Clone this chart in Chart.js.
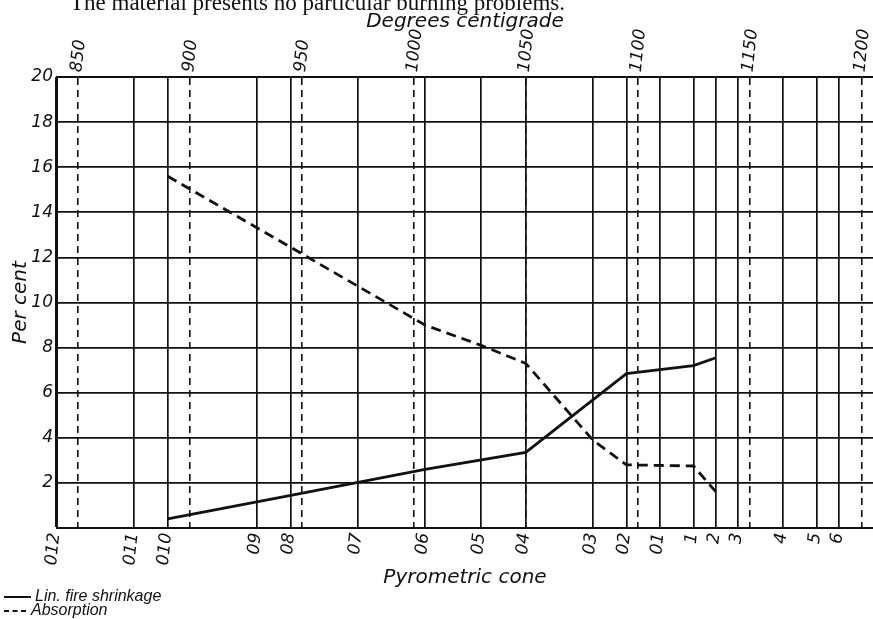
<!DOCTYPE html>
<html>
<head>
<meta charset="utf-8">
<title>Shrinkage and absorption</title>
<script src="https://cdn.jsdelivr.net/npm/chart.js@4.4.1/dist/chart.umd.min.js"></script>
<style>
  body { margin: 0; background: #fff; }
  #wrap { position: relative; width: 873px; height: 619px; overflow: hidden; background: #fff; }
  #myChart { position: absolute; left: 0; top: 0; }
  #headline { position: absolute; left: 70px; top: -10px; font: 23px "Liberation Serif", serif; color: #111; white-space: nowrap; }
</style>
</head>
<body>
<div id="wrap">
  <canvas id="myChart" width="873" height="619"></canvas>
  <div id="headline">The material presents no particular burning problems.</div>
</div>
<script>
// pyrometric cones and the temperature (deg C) each one stands for
var coneLabels = ["012", "011", "010", "09", "08", "07", "06", "05", "04", "03", "02", "01", "1", "2", "3", "4", "5", "6"];
var coneTemps  = [840, 875, 890, 930, 945, 975, 1005, 1030, 1050, 1080, 1095, 1110, 1125, 1135, 1145, 1165, 1180, 1190];

// temperature scale along the top
var degreeTicks = [850, 900, 950, 1000, 1050, 1100, 1150, 1200];

// per cent scale
var percentTicks = [0, 2, 4, 6, 8, 10, 12, 14, 16, 18, 20];

// linear fire shrinkage, per cent
var shrinkCones  = ["010", "08", "06", "04", "02", "1", "2"];
var shrinkValues = [0.4, 1.45, 2.6, 3.35, 6.85, 7.2, 7.55];

// absorption, per cent
var absorbCones  = ["010", "06", "05", "04", "03", "02", "1", "2"];
var absorbValues = [15.6, 9.0, 8.1, 7.3, 3.9, 2.8, 2.75, 1.6];

var ink = '#111';
var tempMin = 840.5, tempMax = 1205.2;

function lettering(size) {
  return { family: '"DejaVu Sans", Verdana, sans-serif', style: 'italic', size: size };
}

function atCones(cones, values) {
  return cones.map(function(c, i) {
    return { x: coneTemps[coneLabels.indexOf(c)], y: values[i] };
  });
}

function tickList(values) {
  return function(scale) {
    scale.ticks = values.map(function(v) { return { value: v }; });
  };
}

function fixHeight(h) {
  return function(scale) {
    scale.height = h;
    scale.paddingLeft = 0;
    scale.paddingRight = 0;
  };
}

// key in the lower left corner, one row per dataset
var cornerKey = {
  id: 'cornerKey',
  afterDraw: function(chart) {
    var c = chart.ctx;
    var top = chart.height - 22;
    c.save();
    c.font = 'italic 16px "Liberation Sans", Arial, sans-serif';
    c.fillStyle = ink;
    c.strokeStyle = ink;
    c.textBaseline = 'middle';
    chart.data.datasets.forEach(function(ds, i) {
      var y = top + i * 14;
      c.lineWidth = 2;
      c.setLineDash(i ? [5, 3.5] : []);
      c.beginPath();
      c.moveTo(4, y);
      c.lineTo(i ? 29 : 31, y);
      c.stroke();
      c.setLineDash([]);
      c.fillText(ds.label, i ? 31 : 35, y);
    });
    c.restore();
  }
};

var ctx = document.getElementById('myChart').getContext('2d');
var chart = new Chart(ctx, {
  type: 'line',
  data: {
    datasets: [{
      label: 'Lin. fire shrinkage',
      data: atCones(shrinkCones, shrinkValues),
      borderColor: ink,
      borderWidth: 2.8,
      pointRadius: 0,
      tension: 0
    }, {
      label: 'Absorption',
      data: atCones(absorbCones, absorbValues),
      borderColor: ink,
      borderWidth: 2.8,
      borderDash: [10, 6],
      pointRadius: 0,
      tension: 0
    }]
  },
  options: {
    responsive: false,
    animation: false,
    layout: { padding: { left: 0, right: 0, top: 0, bottom: 29 } },
    plugins: {
      legend: { display: false },
      tooltip: { enabled: false }
    },
    scales: {
      x: {
        type: 'linear',
        position: 'bottom',
        min: tempMin,
        max: tempMax,
        afterBuildTicks: tickList(coneTemps),
        afterFit: fixHeight(62),
        ticks: {
          autoSkip: false,
          minRotation: 84,
          maxRotation: 84,
          padding: 4,
          labelOffset: -1,
          color: ink,
          font: lettering(17),
          callback: function(value, index) { return coneLabels[index]; }
        },
        grid: { color: ink, lineWidth: 1.7, drawTicks: false },
        border: { color: ink, width: 2 },
        title: { display: true, text: 'Pyrometric cone', color: ink, font: lettering(20), padding: 0 }
      },
      x2: {
        type: 'linear',
        position: 'top',
        min: tempMin,
        max: tempMax,
        afterBuildTicks: tickList(degreeTicks),
        afterFit: fixHeight(77),
        ticks: {
          autoSkip: false,
          minRotation: 84,
          maxRotation: 84,
          padding: 4,
          labelOffset: 19,
          color: ink,
          font: lettering(17),
          callback: function(value) { return String(value); }
        },
        grid: { color: ink, lineWidth: 1.6, drawTicks: false },
        border: { color: ink, width: 2, dash: [7, 5] },
        title: { display: true, text: 'Degrees centigrade', color: ink, font: lettering(20), padding: { top: 10, bottom: 0 } }
      },
      y: {
        min: 0,
        max: 20,
        afterBuildTicks: tickList(percentTicks),
        afterFit: function(scale) { scale.width = 57; },
        ticks: {
          padding: 4,
          color: ink,
          font: lettering(17),
          callback: function(value) { return value === 0 ? '' : value; }
        },
        grid: { color: ink, lineWidth: 1.7, drawTicks: false },
        border: { color: ink, width: 2 },
        title: { display: true, text: 'Per cent', color: ink, font: lettering(20), padding: { top: 9, bottom: 0 } }
      }
    }
  },
  plugins: [cornerKey]
});
</script>
</body>
</html>
